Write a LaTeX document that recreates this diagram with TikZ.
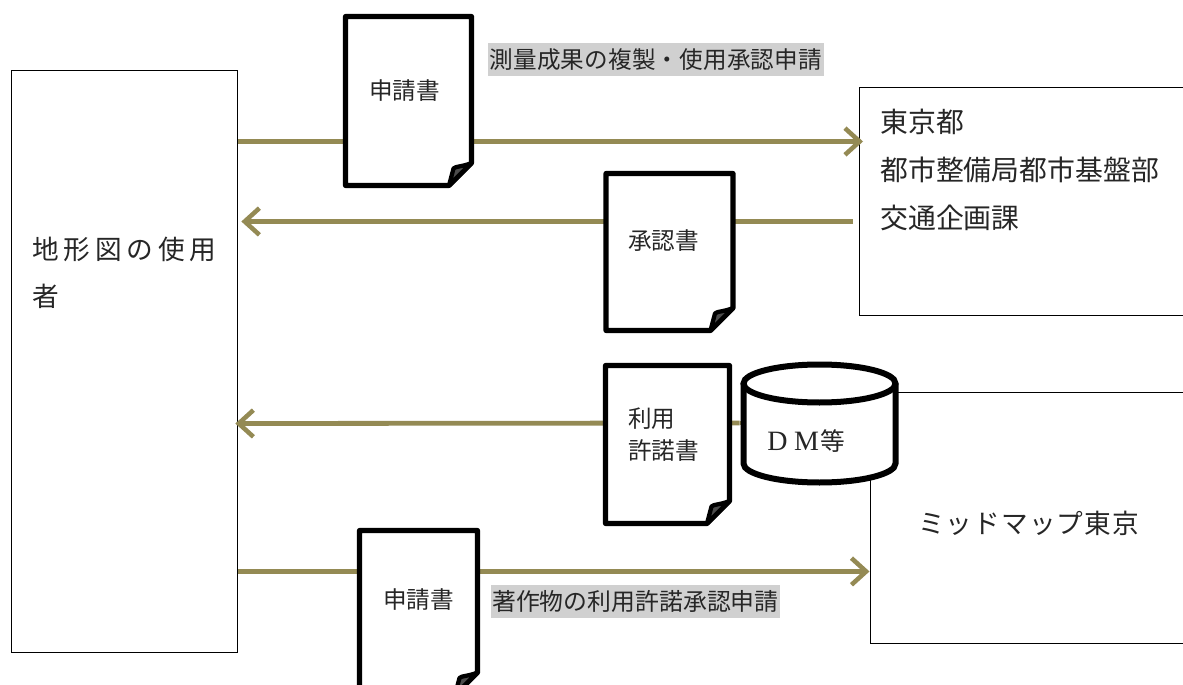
\documentclass[tikz,border=0pt]{standalone}
\usepackage{fontspec}
\setmainfont{Liberation Serif}
\newfontfamily\jp{Noto Sans CJK JP}
\usetikzlibrary{arrows.meta}
\definecolor{flowcol}{HTML}{948A54}
\definecolor{hl}{HTML}{D0D0D0}
\definecolor{ink}{HTML}{262626}
\tikzset{
  frame/.style={draw=black,line width=0.75pt,fill=white,inner sep=0pt,rectangle,anchor=north west},
  flow/.style={draw=flowcol,line width=3.6pt,-{Straight Barb[length=11pt,width=20pt,line width=3.4pt]}},
  flowplain/.style={draw=flowcol,line width=3.6pt},
  docline/.style={draw=black,line width=3.9pt,line join=round,fill=white},
  docfold/.style={draw=black,line width=3.2pt,line join=round,fill=black!70},
  doctext/.style={text=ink,inner sep=0pt,font=\jp\fontsize{17.7}{23.5}\selectfont,align=left},
  sizeb/.style={text=ink,inner sep=0pt,align=left,anchor=west},
  note/.style={fill=hl,text=ink,inner sep=0pt,minimum height=24.5pt}
}
% l t r b in px
\newcommand{\docsheet}[4]{%
  \draw[docline] (#1,-#2) -- (#3,-#2) -- (#3,{-(#4-22.5)}) -- ({#3-22.5},-#4) -- (#1,-#4) -- cycle;
  \draw[docfold] (#3,{-(#4-22.5)}) .. controls ({#3-8},{-(#4-19)}) and ({#3-17},{-(#4-19)}) .. ({#3-18},{-(#4-17)}) -- ({#3-22.5},-#4) -- cycle;
}
\begin{document}
\begin{tikzpicture}[x=0.75pt,y=0.75pt]
\useasboundingbox (0,0) rectangle (1183,-685);
\clip (0,0) rectangle (1183,-685);
% boxes
\node[frame,minimum width=169.5pt,minimum height=436.5pt] (user) at (11,-70) {};
\node[frame,minimum width=262.5pt,minimum height=171pt] (tokyo) at (859,-87) {};
\node[frame,minimum width=252pt,minimum height=188.25pt] (midmap) at (869.5,-392) {};
% connectors
\draw[flow] ([yshift=165pt]user.east) -- ([xshift=3pt,yshift=45pt]tokyo.west);
\draw[flow] ([xshift=-4.5pt,yshift=-15pt]tokyo.west) -- ([xshift=2.5pt,yshift=105pt]user.east);
\draw[flowplain] ([yshift=-23.25pt]midmap.north west) -- ++(-130,0) coordinate (dmstart);
\draw[flow] (dmstart) -- ([xshift=-2pt,yshift=-46.5pt]user.east);
\draw[flow] ([yshift=-157.5pt]user.east) -- ([yshift=-40.1pt]midmap.west);
% documents
\docsheet{345.5}{16.5}{471.5}{185.5}
\docsheet{606}{173.5}{733}{330.5}
\docsheet{605.5}{365.5}{729.5}{523.5}
\docsheet{359.5}{530.5}{477.5}{695}
% database cylinder
\fill[white] (743.5,-383.5) -- (743.5,-463.5) arc[start angle=180,end angle=360,x radius=76,y radius=19] -- (895.5,-383.5) -- cycle;
\draw[line width=4.5pt,fill=white] (819.5,-383.5) ellipse[x radius=76,y radius=19];
\draw[line width=4.5pt] (743.5,-383.5) -- (743.5,-463.5) arc[start angle=180,end angle=360,x radius=76,y radius=19] -- (895.5,-383.5);
% texts
\node[sizeb,font=\jp\fontsize{20}{35.5}\selectfont\addfontfeature{LetterSpace=18}] (userL) at (32,-273) {地形図の使用\\者};
\node[sizeb,font=\jp\fontsize{20.9}{36}\selectfont] (tokyoL) at (880,-170) {東京都\\都市整備局都市基盤部\\交通企画課};
\node[sizeb,font=\jp\fontsize{20}{24}\selectfont\addfontfeature{LetterSpace=4}] (midmapL) at (918,-523) {ミッドマップ東京};
\node[doctext] (d1L) at (404.5,-91) {申請書};
\node[doctext] (d2L) at (663.5,-241) {承認書};
\node[doctext,anchor=west] (d3L) at (628,-434.5) {利用\\許諾書};
\node[doctext] (d4L) at (418.5,-600) {申請書};
\node[text=ink,inner sep=0pt,anchor=west,font=\fontsize{21}{22}\selectfont] (dmL) at (767,-441) {D\hspace{5pt}M\hspace{1pt}{\jp\fontsize{18.5}{22}\selectfont 等}};
\node[note,anchor=north west,minimum width=252pt,text width=252pt,align=center,font=\jp\fontsize{17.7}{20}\selectfont\addfontfeature{LetterSpace=0.6}] (n1) at (487.5,-43) {測量成果の複製・使用承認申請};
\node[note,anchor=north west,minimum width=217pt,text width=217pt,align=center,font=\jp\fontsize{17.9}{20}\selectfont] (n2) at (490.5,-585) {著作物の利用許諾承認申請};
\end{tikzpicture}
\end{document}
